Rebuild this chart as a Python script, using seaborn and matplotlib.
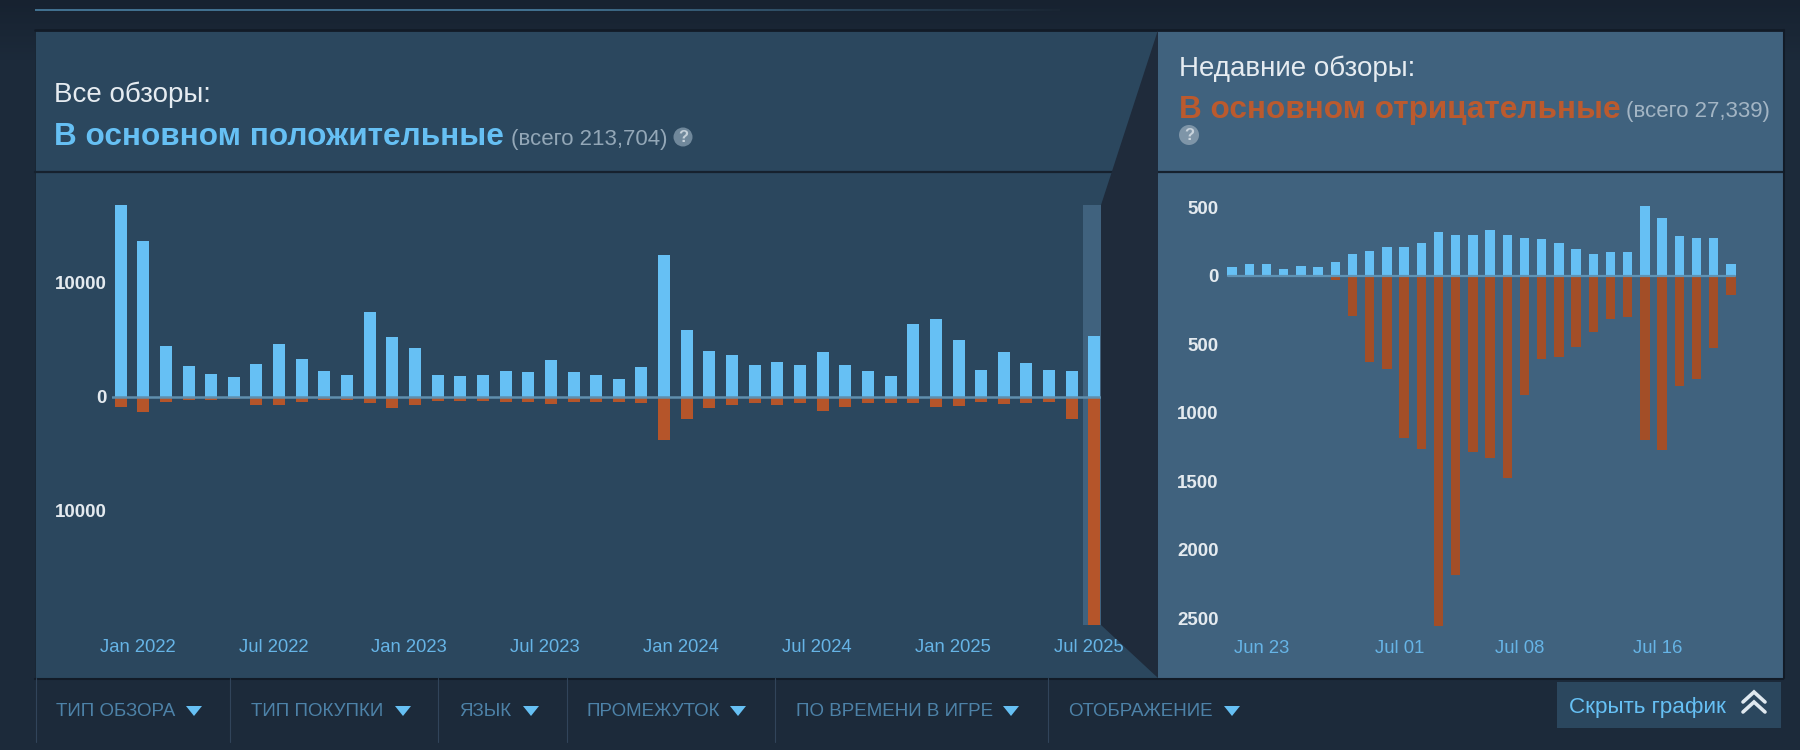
import seaborn as sns
import matplotlib.pyplot as plt
import numpy as np
import pandas as pd
from matplotlib.patches import Polygon, Rectangle, Circle

# monthly reviews, Dec 2021 - Jul 2025
all_months = list(pd.date_range('2021-12-01', periods=44, freq='MS').strftime('%b %Y'))
all_up = [16800, 13700, 4500, 2750, 2050, 1750, 2920, 4680, 3330, 2250, 1930, 7430, 5230, 4270, 1960, 1870,
          1960, 2310, 2160, 3270, 2160, 1960, 1550, 2630, 12430, 5850, 4040, 3650, 2780, 3040, 2840, 3920,
          2780, 2250, 1840, 6400, 6870, 4970, 2400, 3950, 3010, 2400, 2280, 5320]
all_down = [900, 1290, 470, 230, 230, 180, 670, 670, 440, 290, 230, 530, 940, 700, 380, 380,
            320, 470, 470, 610, 470, 400, 470, 500, 3770, 1900, 940, 730, 560, 670, 560, 1200,
            850, 560, 560, 530, 880, 820, 440, 610, 530, 440, 1930, 20000]
all_ticks = ['Jan 2022', 'Jul 2022', 'Jan 2023', 'Jul 2023', 'Jan 2024', 'Jul 2024', 'Jan 2025', 'Jul 2025']

# daily reviews, Jun 21 - Jul 20 2025
recent_days = list(pd.date_range('2025-06-21', periods=30, freq='D').strftime('%b %d'))
recent_up = [63, 85, 85, 49, 75, 68, 102, 163, 182, 212, 212, 243, 321, 302, 299, 336, 302, 277, 272, 243,
             197, 160, 175, 173, 511, 421, 292, 275, 280, 85]
recent_down = [0, 0, 0, 0, 0, 0, 30, 290, 628, 679, 1182, 1263, 2555, 2182, 1285, 1330, 1474, 869, 606, 591,
               516, 406, 316, 297, 1197, 1270, 803, 752, 528, 139]
recent_ticks = ['Jun 23', 'Jul 01', 'Jul 08', 'Jul 16']

filter_names = ['ТИП ОБЗОРА', 'ТИП ПОКУПКИ', 'ЯЗЫК', 'ПРОМЕЖУТОК', 'ПО ВРЕМЕНИ В ИГРЕ', 'ОТОБРАЖЕНИЕ']
filter_x = [56, 251, 459, 587, 796, 1068]
filter_arrow_x = [194, 403, 531, 738, 1011, 1232]
filter_sep_x = [36, 230, 438, 567, 775, 1048]

BG = '#1c2a3a'
PANEL = '#2b475e'
PANEL_LIGHT = '#40627e'
BLUE = '#66c0f4'
ORANGE = '#b5552a'
ORANGE_DARK = '#a34e27'
W, H = 1800, 750

sns.set_theme(style='white')
plt.rcParams['font.family'] = ['Liberation Sans', 'DejaVu Sans']

fig = plt.figure(figsize=(18, 7.5), dpi=100, facecolor=BG)


def px_axes(x0, y0, x1, y1, zorder):
    ax = fig.add_axes([x0 / W, 1 - y1 / H, (x1 - x0) / W, (y1 - y0) / H], zorder=zorder)
    ax.patch.set_alpha(0)
    return ax


def bar_chart(ax, cats, up, down, color, width, xlim, ylim, ticks, yticks):
    sns.barplot(x=cats, y=up, color=BLUE, saturation=1, width=width, linewidth=0, ax=ax)
    sns.barplot(x=cats, y=[-v for v in down], color=color, saturation=1, width=width, linewidth=0, ax=ax)
    ax.set_xlim(*xlim)
    ax.set_ylim(*ylim)
    ax.set_xticks([cats.index(t) - 0.25 for t in ticks], ticks)
    ax.set_yticks(yticks, [str(abs(v)) for v in yticks])
    ax.tick_params(axis='x', length=0, pad=10, labelsize=13.3, labelcolor='#66b4e6')
    ax.tick_params(axis='y', length=0, pad=4, labelsize=13.5, labelcolor='#e4eaef')
    for t in ax.get_yticklabels():
        t.set_fontweight('bold')
    ax.set_xlabel('')
    ax.set_ylabel('')
    sns.despine(ax=ax, left=True, bottom=True)


# background layer, in pixels
back = px_axes(0, 0, W, H, 0)
back.set_xlim(0, W)
back.set_ylim(H, 0)
back.axis('off')
gradient = np.linspace(0, 1, 256).reshape(-1, 1)
back.imshow(gradient, extent=(0, W, 60, 0), cmap=plt.cm.colors.LinearSegmentedColormap.from_list('top', ['#172230', BG]), aspect='auto')
back.set_xlim(0, W)
back.set_ylim(H, 0)
back.add_patch(Rectangle((35, 30), 1125, 648, color=PANEL, lw=0))
back.add_patch(Rectangle((1158, 30), 625, 648, color=PANEL_LIGHT, lw=0))
back.plot([35, 1158], [172, 172], color='#16212e', lw=1.6)
back.plot([1158, 1783], [172, 172], color='#16212e', lw=1.6)
back.plot([35, 35], [30, 678], color='#16212e', lw=0.6)
back.plot([35, 1783], [29.5, 29.5], color='#121b27', lw=2)
back.plot([35, 1783], [678.5, 678.5], color='#121b27', lw=1.5)
back.plot([1783.5, 1783.5], [30, 678], color='#121b27', lw=1.5)

# thin line on top, fading to the right
line_fade = np.linspace(0, 1, 256).reshape(1, -1)
back.imshow(line_fade, extent=(35, 1060, 11, 9), aspect='auto',
            cmap=plt.cm.colors.LinearSegmentedColormap.from_list('fade', ['#41708f', '#41708f', '#1a2634']))
back.set_xlim(0, W)
back.set_ylim(H, 0)

# all reviews
ax1 = px_axes(112, 205, 1101, 625, 2)
ax1.axvspan(42.49, 43.3, color=PANEL_LIGHT, lw=0, zorder=0)
bar_chart(ax1, all_months, all_up, all_down, ORANGE, 0.53, (-0.38, 43.29), (-20000, 16842), all_ticks, [10000, 0, -10000])
ax1.axhline(0, color='#5f8fae', lw=1.8, zorder=5)

# recent reviews
ax2 = px_axes(1224, 205.7, 1740, 626, 2)
bar_chart(ax2, recent_days, recent_up, recent_down, ORANGE_DARK, 0.55, (-0.47, 29.53), (-2555, 513), recent_ticks,
          [500, 0, -500, -1000, -1500, -2000, -2500])
ax2.plot([-0.25, 29.25], [0, 0], color='#5f93b5', lw=1.6, zorder=5)

# top layer: wedge, header text, filter row
top = px_axes(0, 0, W, H, 3)
top.set_xlim(0, W)
top.set_ylim(H, 0)
top.axis('off')
top.add_patch(Polygon([(1158, 30), (1158, 678), (1101, 625), (1101, 205)], closed=True, color='#1f2b3b', lw=0))

top.text(54, 95, 'Все обзоры:', color='#e6ecf1', fontsize=20, va='center')
top.text(54, 137, 'В основном положительные', color=BLUE, fontsize=22.7, fontweight='bold', va='center')
top.text(511, 139, '(всего 213,704)', color='#93a7b7', fontsize=16, va='center')
top.add_patch(Circle((683, 137), 9.5, color='#70889b', lw=0))
top.text(683, 137, '?', color='#c5d0d9', fontsize=12, fontweight='bold', ha='center', va='center')

top.text(1179, 69, 'Недавние обзоры:', color='#e6ecf1', fontsize=20, va='center')
top.text(1179, 110, 'В основном отрицательные', color='#bb5a2e', fontsize=22.7, fontweight='bold', va='center')
top.text(1626, 111, '(всего 27,339)', color='#a3b5c4', fontsize=16, va='center')
top.add_patch(Circle((1189, 135), 10, color='#7e95a8', lw=0))
top.text(1189, 135, '?', color='#c8d3dc', fontsize=12, fontweight='bold', ha='center', va='center')

for name, x, arrow_x, sep_x in zip(filter_names, filter_x, filter_arrow_x, filter_sep_x):
    top.text(x, 712, name, color='#4d82a8', fontsize=13.5, va='center')
    top.add_patch(Polygon([(arrow_x - 8, 706), (arrow_x + 8, 706), (arrow_x, 716)], closed=True, color=BLUE, lw=0))
    top.plot([sep_x, sep_x], [678, 742], color='#31445a', lw=0.8)

top.add_patch(Rectangle((1557, 682), 224, 46, color=PANEL, lw=0))
top.text(1569, 707, 'Скрыть график', color=BLUE, fontsize=16.2, va='center')
for y in (692, 702):
    top.plot([1743, 1754, 1765], [y + 10, y, y + 10], color='#dfe8ef', lw=2.6, solid_joinstyle='miter')

fig.savefig('out.png', dpi=100, facecolor=BG)
